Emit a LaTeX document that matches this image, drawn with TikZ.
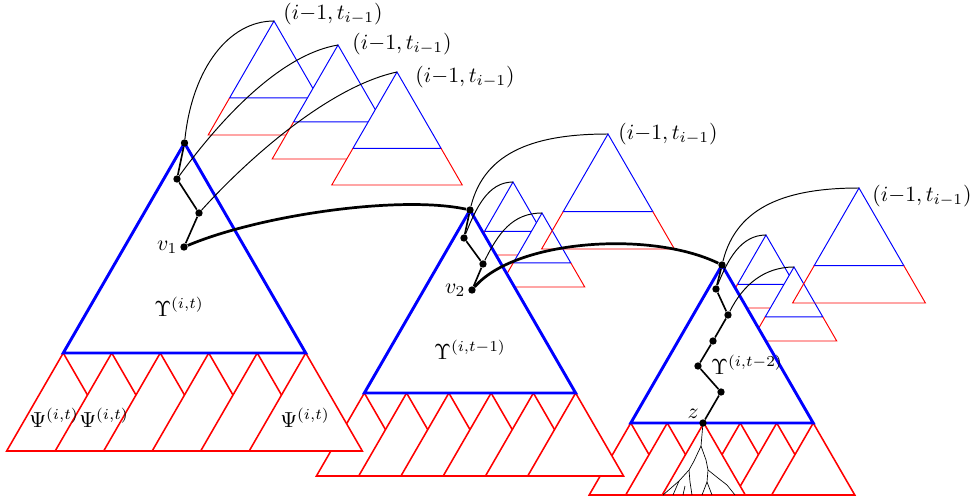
\documentclass[tikz,border=0pt]{standalone}
\usetikzlibrary{calc}

% equilateral triangles, apex (x,y) and height h, y grows downwards
\newcommand*{\redtri}[3]{%
	\filldraw[redtri] ({#1},{#2}) -- ++({-0.5774*#3},{#3}) -- ++({1.1547*#3},0) -- cycle;}
\newcommand*{\bluetri}[3]{%
	\filldraw[bluetri] ({#1},{#2}) -- ++({-0.5774*#3},{#3}) -- ++({1.1547*#3},0) -- cycle;}
\newcommand*{\subtri}[4]{%
	\fill[#4] ({#1},{#2}) -- ++({-0.5774*#3},{#3}) -- ++({1.1547*#3},0) -- cycle;
	\draw[subtop] ({#1-0.3897*#3},{#2+0.675*#3}) -- ({#1},{#2}) -- ({#1+0.3897*#3},{#2+0.675*#3}) -- cycle;
	\draw[subbot] ({#1-0.3897*#3},{#2+0.675*#3}) -- ({#1-0.5774*#3},{#2+#3}) -- ({#1+0.5774*#3},{#2+#3}) -- ({#1+0.3897*#3},{#2+0.675*#3});}

\begin{document}
\begin{tikzpicture}
[
	x=0.0181cm,y=-0.0181cm,
	dot/.style={circle,fill,inner sep=0pt,minimum size=3.8pt},
	bluetri/.style={draw=blue,fill=white,line width=1.5pt},
	redtri/.style={draw=red,fill=white,line width=0.8pt},
	subtop/.style={blue,line width=0.5pt},
	subbot/.style={red,line width=0.5pt},
	link/.style={line width=0.5pt},
	walk/.style={line width=0.85pt},
	jump/.style={line width=1.4pt},
	tree/.style={line width=0.35pt},
	lbl/.style={scale=1.12},
	tag/.style={lbl,anchor=west,inner sep=0pt}
]

	\useasboundingbox (0,0) rectangle (970,501);

	% third block (back)
	\subtri{766}{235}{73}{fill=white}
	\subtri{794}{267}{74}{fill=white}
	\subtri{859}{188}{115}{fill=none}
	\foreach \k in {0,1,3,4,5,2} {
		\pgfmathsetmacro{\ax}{630.77+\k*36.49}
		\redtri{\ax}{423}{72}
	}
	\draw[tree] (703,423) -- (701,446) -- (694,461) -- (689,470) -- (679,481) -- (663,495);
	\draw[tree] (679,481) -- (673,495);
	\draw[tree] (689,470) -- (690,482) -- (692,495);
	\draw[tree] (685,486) -- (683,495);
	\draw[tree] (701,446) -- (706,460) -- (708,470) -- (707,482) -- (702,495);
	\draw[tree] (707,482) -- (712,495);
	\draw[tree] (708,470) -- (718,478) -- (727,485) -- (735,495);
	\bluetri{722}{265}{158}

	% second block
	\subtri{513}{182}{73}{fill=white}
	\subtri{542}{213}{74}{fill=white}
	\subtri{608}{134}{115}{fill=none}
	\foreach \k in {0,...,5} {
		\pgfmathsetmacro{\ax}{364.34+\k*42.26}
		\redtri{\ax}{393}{83}
	}
	\bluetri{470}{210}{183}

	% first block (front)
	\subtri{274}{21}{114}{fill=white}
	\subtri{338}{45}{114}{fill=white}
	\subtri{397}{72}{113}{fill=white}
	\foreach \k in {0,...,5} {
		\pgfmathsetmacro{\ax}{63.25+\k*48.5}
		\redtri{\ax}{353}{98}
	}
	\bluetri{184.5}{143}{210}

	% apexes of the small trees
	\coordinate (s1a) at (274,21);
	\coordinate (s1b) at (338,45);
	\coordinate (s1c) at (397,72);
	\coordinate (s2a) at (608,134);
	\coordinate (s2b) at (513,182);
	\coordinate (s2c) at (542,213);
	\coordinate (s3a) at (859,188);
	\coordinate (s3b) at (766,235);
	\coordinate (s3c) at (794,267);

	% walks
	\node[dot] (A1) at (184.5,143) {};
	\node[dot] (p12) at (177,179) {};
	\node[dot] (p13) at (199,213) {};
	\node[dot] (v1) at (184,247) {};
	\node[dot] (A2) at (470,210) {};
	\node[dot] (p22) at (464,238) {};
	\node[dot] (p23) at (483,264) {};
	\node[dot] (v2) at (472,290) {};
	\node[dot] (A3) at (722,265) {};
	\node[dot] (p32) at (716,289) {};
	\node[dot] (p33) at (728,315) {};
	\node[dot] (p34) at (713,341) {};
	\node[dot] (p35) at (698,366) {};
	\node[dot] (p36) at (721,392) {};
	\node[dot] (z) at (703,423) {};

	\draw[walk] (A1) -- (p12) -- (p13) -- (v1);
	\draw[walk] (A2) -- (p22) -- (p23) -- (v2);
	\draw[walk] (A3) -- (p32) -- (p33) -- (p34) -- (p35) -- (p36) -- (z);

	\draw[link] (A1) .. controls +(8,-75) and +(-45,0) .. (s1a);
	\draw[link] (p12) .. controls +(40,-55) and +(-60,10) .. (s1b);
	\draw[link] (p13) .. controls +(45,-50) and +(-70,15) .. (s1c);
	\draw[link] (A2) .. controls +(15,-60) and +(-70,0) .. (s2a);
	\draw[link] (p22) .. controls +(12,-30) and +(-25,0) .. (s2b);
	\draw[link] (p23) .. controls +(15,-30) and +(-30,0) .. (s2c);
	\draw[link] (A3) .. controls +(15,-60) and +(-70,0) .. (s3a);
	\draw[link] (p32) .. controls +(12,-30) and +(-25,0) .. (s3b);
	\draw[link] (p33) .. controls +(15,-30) and +(-30,0) .. (s3c);

	\draw[jump] (v1) .. controls +(76,-32) and +(-70,-15) .. (A2);
	\draw[jump] (v2) .. controls +(43,-50) and +(-72,-35) .. (A3);

	% labels
	\node[tag] (n1a) at (283,14) {$(i{-}1,t_{i-1})$};
	\node[tag] (n1b) at (352,44) {$(i{-}1,t_{i-1})$};
	\node[tag] (n1c) at (415,77) {$(i{-}1,t_{i-1})$};
	\node[tag] (n2a) at (618,134) {$(i{-}1,t_{i-1})$};
	\node[tag] (n3a) at (872,196) {$(i{-}1,t_{i-1})$};

	\node[lbl] (u1) at (179,307) {$\Upsilon^{(i,t)}$};
	\node[lbl] (u2) at (470,350) {$\Upsilon^{(i,t-1)}$};
	\node[lbl] (u3) at (747,365) {$\Upsilon^{(i,t-2)}$};
	\node[lbl] (w1) at (54,418) {$\Psi^{(i,t)}$};
	\node[lbl] (w2) at (104,418) {$\Psi^{(i,t)}$};
	\node[lbl] (w3) at (305,418) {$\Psi^{(i,t)}$};

	\node[lbl,anchor=east,inner sep=1pt] at (v1.west) {$v_1$};
	\node[lbl,anchor=east,inner sep=1pt] at (v2.west) {$v_2$};
	\node[lbl,anchor=south east,inner sep=0.5pt] at (z.north west) {$z$};

\end{tikzpicture}
\end{document}
